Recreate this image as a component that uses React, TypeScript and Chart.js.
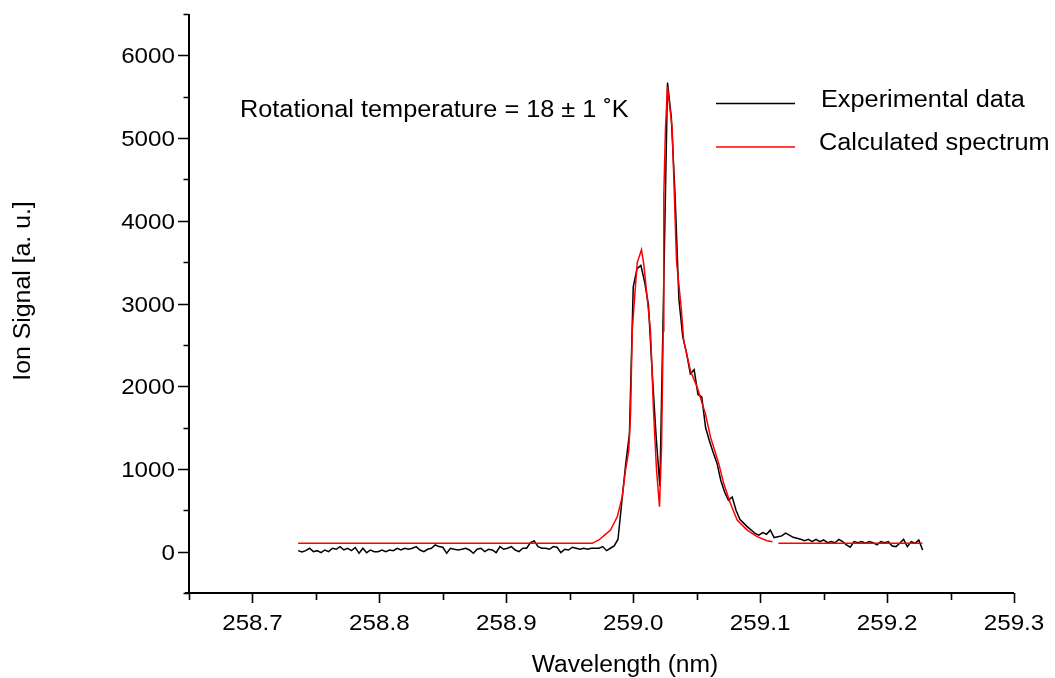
import React, { useEffect, useRef } from "react";
import { Chart, registerables } from "chart.js";

Chart.register(...registerables);

// ---------- data ----------
const expWavelength = [
  258.736, 258.739, 258.742, 258.745, 258.748, 258.751, 258.754, 258.757, 258.760, 258.763,
  258.766, 258.769, 258.772, 258.775, 258.778, 258.781, 258.784, 258.787, 258.790, 258.793,
  258.796, 258.799, 258.802, 258.805, 258.808, 258.811, 258.814, 258.817, 258.820, 258.823,
  258.826, 258.829, 258.832, 258.835, 258.838, 258.841, 258.844, 258.847, 258.850, 258.853,
  258.856, 258.859, 258.862, 258.865, 258.868, 258.871, 258.874, 258.877, 258.880, 258.883,
  258.886, 258.889, 258.892, 258.895, 258.898, 258.901, 258.904, 258.907, 258.910, 258.913,
  258.916, 258.919, 258.922, 258.925, 258.928, 258.931, 258.934, 258.937, 258.940, 258.943,
  258.946, 258.949, 258.952, 258.955, 258.958, 258.961, 258.964, 258.967, 258.970, 258.973,
  258.976, 258.979, 258.982, 258.985, 258.988, 258.991, 258.994, 258.997, 259.000, 259.003,
  259.006, 259.009, 259.012, 259.015, 259.018, 259.021, 259.024, 259.027, 259.030, 259.033,
  259.036, 259.039, 259.042, 259.045, 259.048, 259.051, 259.054, 259.057, 259.060, 259.063,
  259.066, 259.069, 259.072, 259.075, 259.078, 259.081, 259.084, 259.087, 259.090, 259.093,
  259.096, 259.099, 259.102, 259.105, 259.108, 259.111, 259.114, 259.117, 259.120, 259.123,
  259.126, 259.129, 259.132, 259.135, 259.138, 259.141, 259.144, 259.147, 259.150, 259.153,
  259.156, 259.159, 259.162, 259.165, 259.168, 259.171, 259.174, 259.177, 259.180, 259.183,
  259.186, 259.189, 259.192, 259.195, 259.198, 259.201, 259.204, 259.207, 259.210, 259.213,
  259.216, 259.219, 259.222, 259.225, 259.228,
];

const expSignal = [
  12, -5, 12, 41, 0, 12, -12, 20, 0, 41,
  29, 61, 20, 41, 12, 50, -20, 41, -12, 20,
  0, 0, 20, 0, 20, 12, 41, 20, 41, 29,
  41, 61, 20, 0, 29, 41, 81, 61, 53, -20,
  41, 29, 20, 29, 41, 20, -20, 29, 41, 0,
  29, 20, -12, 61, 29, 41, 61, 20, 0, 41,
  41, 110, 130, 61, 41, 41, 29, 61, 53, -12,
  29, 20, 53, 41, 29, 41, 29, 41, 41, 41,
  61, 12, 41, 70, 150, 600, 1050, 1420, 3200, 3420,
  3460, 3260, 2980, 2150, 1400, 790, 3200, 5670, 5250, 4300,
  3050, 2600, 2400, 2150, 2200, 1900, 1870, 1500, 1340, 1200,
  1070, 860, 720, 620, 660, 500, 390, 345, 300, 261,
  220, 200, 230, 210, 260, 170, 180, 190, 225, 200,
  173, 161, 149, 133, 149, 121, 149, 121, 141, 108,
  121, 108, 149, 121, 81, 53, 121, 108, 121, 101,
  121, 108, 81, 121, 108, 121, 69, 61, 101, 149,
  61, 121, 101, 140, 20,
];

const calcWavelength = [
  258.736, 258.9677, 258.9729, 258.9774, 258.9821, 258.9874, 258.9913, 258.9939, 258.9965, 258.9979,
  258.9992, 259.0031, 259.0065, 259.0083, 259.0136, 259.016, 259.0183, 259.0207, 259.0223, 259.0236,
  259.0241, 259.0254, 259.027, 259.0307, 259.0341, 259.0378, 259.0398, 259.0451, 259.0504, 259.0569,
  259.0609, 259.0674, 259.0713, 259.0766, 259.0819, 259.0898, 259.0976, 259.1055, 259.1097, 259.112,
  259.1144, 259.2278,
];

const calcSignal = [
  100, 100, 141, 200, 261, 421, 662, 983, 1224, 1670,
  2669, 3491, 3650, 3475, 2669, 1700, 1000, 542, 1264, 2669,
  4314, 5116, 5620, 5116, 3511, 2949, 2549, 2187, 1986, 1666,
  1384, 1064, 823, 583, 382, 261, 181, 132, 120, null,
  100, 100,
];

const xMajorTicks = [258.7, 258.8, 258.9, 259.0, 259.1, 259.2, 259.3];
const xTickLabels = ["258.7", "258.8", "258.9", "259.0", "259.1", "259.2", "259.3"];
const xMinorTicks = [258.65, 258.75, 258.85, 258.95, 259.05, 259.15, 259.25];
const yMajorTicks = [0, 1000, 2000, 3000, 4000, 5000, 6000];
const yTickLabels = ["0", "1000", "2000", "3000", "4000", "5000", "6000"];
const yMinorTicks = [-500, 500, 1500, 2500, 3500, 4500, 5500, 6500];

const seriesNames = ["Experimental data", "Calculated spectrum"];
const seriesColors = ["#000000", "#ff0000"];
const annotationText = "Rotational temperature = 18 \u00b1 1 \u02daK";
const xTitle = "Wavelength (nm)";
const yTitle = "Ion Signal [a. u.]";

const FONT = "'Liberation Sans', Arial, Helvetica, sans-serif";

// draw text horizontally stretched (reference font is a little wider than Arial)
function stretchedText(
  ctx: CanvasRenderingContext2D,
  text: string,
  x: number,
  y: number,
  size: number,
  stretch: number,
  align: CanvasTextAlign,
  baseline: CanvasTextBaseline
) {
  ctx.save();
  ctx.font = `${size}px ${FONT}`;
  ctx.textAlign = align;
  ctx.textBaseline = baseline;
  ctx.translate(x, y);
  ctx.scale(stretch, 1);
  ctx.fillText(text, 0, 0);
  ctx.restore();
}

const decorPlugin = {
  id: "decor",
  afterDraw(chart: any) {
    const { ctx, chartArea, scales } = chart;
    const xs = scales.x;
    const ys = scales.y;
    const left = chartArea.left;
    const bottom = chartArea.bottom;
    ctx.save();
    ctx.strokeStyle = "#000";
    ctx.lineWidth = 2;
    ctx.beginPath();
    ctx.moveTo(left, chartArea.top);
    ctx.lineTo(left, bottom);
    ctx.moveTo(left - 4, bottom);
    ctx.lineTo(chartArea.right, bottom);
    ctx.stroke();

    ctx.lineWidth = 1.6;
    ctx.beginPath();
    yMajorTicks.forEach((v) => {
      const p = Math.round(ys.getPixelForValue(v)) + 0.5;
      ctx.moveTo(left - 11, p);
      ctx.lineTo(left, p);
    });
    yMinorTicks.forEach((v) => {
      const p = Math.round(ys.getPixelForValue(v)) + 0.5;
      ctx.moveTo(left - 5.5, p);
      ctx.lineTo(left, p);
    });
    xMajorTicks.forEach((v) => {
      const p = Math.round(xs.getPixelForValue(v)) + 0.5;
      ctx.moveTo(p, bottom);
      ctx.lineTo(p, bottom + 10);
    });
    xMinorTicks.forEach((v) => {
      const p = Math.round(xs.getPixelForValue(v)) + 0.5;
      ctx.moveTo(p, bottom);
      ctx.lineTo(p, bottom + 7);
    });
    ctx.stroke();

    ctx.fillStyle = "#000";
    // tick labels
    xMajorTicks.forEach((v, i) => {
      stretchedText(ctx, xTickLabels[i], xs.getPixelForValue(v), bottom + 37, 22, 1.1, "center", "alphabetic");
    });
    yMajorTicks.forEach((v, i) => {
      stretchedText(ctx, yTickLabels[i], left - 14, ys.getPixelForValue(v) + 8, 22, 1.1, "right", "alphabetic");
    });

    // axis titles
    stretchedText(ctx, xTitle, 625, 672, 23, 1.07, "center", "alphabetic");
    ctx.save();
    ctx.translate(24, 291);
    ctx.rotate(-Math.PI / 2);
    ctx.font = `23px ${FONT}`;
    ctx.textAlign = "center";
    ctx.textBaseline = "middle";
    ctx.scale(1.08, 1);
    ctx.fillText(yTitle, 0, 0);
    ctx.restore();

    // annotation
    stretchedText(ctx, annotationText, 240, 117, 23, 1.1, "left", "alphabetic");

    // legend
    const legendY = [103.5, 147];
    const legendTextX = [821, 819];
    const legendBase = [107, 150];
    seriesNames.forEach((name, i) => {
      ctx.strokeStyle = seriesColors[i];
      ctx.lineWidth = 1.4;
      ctx.beginPath();
      ctx.moveTo(716, legendY[i]);
      ctx.lineTo(795, legendY[i]);
      ctx.stroke();
      ctx.fillStyle = "#000";
      stretchedText(ctx, name, legendTextX[i], legendBase[i], 23, 1.1, "left", "alphabetic");
    });
    ctx.restore();
  },
};

export default function App() {
  const canvasRef = useRef<HTMLCanvasElement | null>(null);

  useEffect(() => {
    const canvas = canvasRef.current;
    if (!canvas) return;
    const expData = expWavelength.map((x, i) => ({ x, y: expSignal[i] }));
    const calcData = calcWavelength.map((x, i) => ({ x, y: calcSignal[i] }));

    const chart = new Chart(canvas, {
      type: "line",
      data: {
        datasets: [
          {
            label: seriesNames[0],
            data: expData,
            borderColor: seriesColors[0],
            borderWidth: 1.5,
            pointRadius: 0,
            tension: 0,
            fill: false,
            order: 2,
          },
          {
            label: seriesNames[1],
            data: calcData as any,
            borderColor: seriesColors[1],
            borderWidth: 1.5,
            pointRadius: 0,
            tension: 0,
            fill: false,
            spanGaps: false,
            order: 1,
          },
        ],
      },
      options: {
        responsive: false,
        animation: false,
        devicePixelRatio: 1,
        layout: { padding: { top: 14, right: 41, left: 0, bottom: 0 } },
        plugins: {
          legend: { display: false },
          tooltip: { enabled: false },
          title: { display: false },
        },
        scales: {
          x: {
            type: "linear",
            min: 258.65,
            max: 259.3,
            grid: { display: false },
            border: { display: false },
            ticks: { display: false },
            afterBuildTicks: (s: any) => {
              s.ticks = [...xMinorTicks, ...xMajorTicks]
                .sort((a, b) => a - b)
                .map((v) => ({ value: v }));
            },
            afterFit: (s: any) => {
              s.height = 85;
              s.paddingLeft = 0;
              s.paddingRight = 0;
            },
          },
          y: {
            type: "linear",
            min: -500,
            max: 6500,
            grid: { display: false },
            border: { display: false },
            ticks: { display: false },
            afterBuildTicks: (s: any) => {
              s.ticks = [...yMinorTicks, ...yMajorTicks]
                .sort((a, b) => a - b)
                .map((v) => ({ value: v }));
            },
            afterFit: (s: any) => {
              s.width = 189;
              s.paddingTop = 0;
              s.paddingBottom = 0;
            },
          },
        },
      },
      plugins: [decorPlugin],
    });
    return () => chart.destroy();
  }, []);

  return (
    <div style={{ position: "absolute", left: 0, top: 0, width: 1055, height: 678, background: "#fff" }}>
      <canvas ref={canvasRef} width={1055} height={678} style={{ display: "block" }} />
    </div>
  );
}
